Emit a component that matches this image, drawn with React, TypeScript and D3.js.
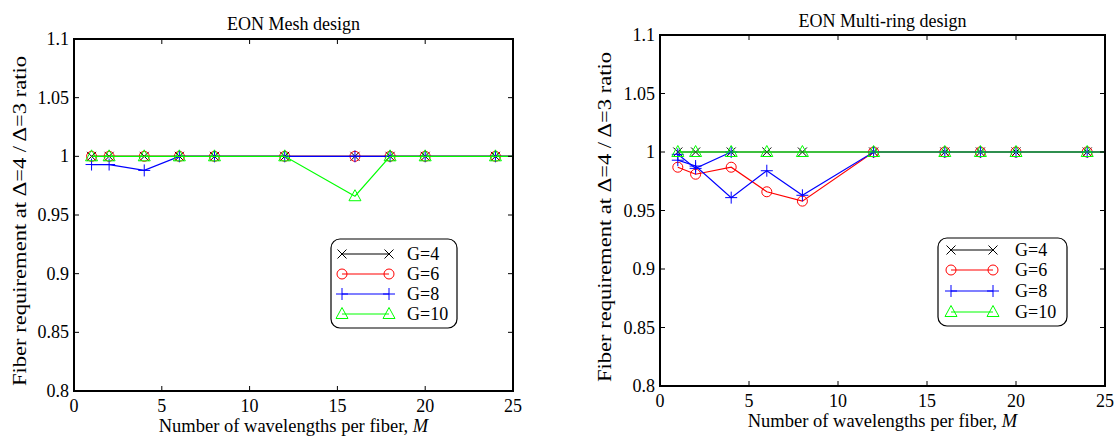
import React from 'react';
import * as d3 from 'd3';

// ---- data ----
const M = [1, 2, 4, 6, 8, 12, 16, 18, 20, 24, 28];

const meshG4 = [1, 1, 1, 1, 1, 1, 1, 1, 1, 1, 1];
const meshG6 = [1, 1, 1, 1, 1, 1, 1, 1, 1, 1, 1];
const meshG8 = [0.993, 0.993, 0.988, 1, 1, 1, 1, 1, 1, 1, 1];
const meshG10 = [1, 1, 1, 1, 1, 1, 0.966, 1, 1, 1, 1];

const ringG4 = [1, 1, 1, 1, 1, 1, 1, 1, 1, 1, 1];
const ringG6 = [0.987, 0.981, 0.987, 0.966, 0.958, 1, 1, 1, 1, 1, 1];
const ringG8 = [0.993, 0.988, 0.961, 0.984, 0.963, 1, 1, 1, 1, 1, 1];
const ringG8bM = [1, 2, 4];
const ringG8b = [0.998, 0.986, 1];
const ringG10 = [1, 1, 1, 1, 1, 1, 1, 1, 1, 1, 1];

const xTicks = [0, 5, 10, 15, 20, 25];
const yTicks = [0.8, 0.85, 0.9, 0.95, 1, 1.05, 1.1];
const yTickLabels = ['0.8', '0.85', '0.9', '0.95', '1', '1.05', '1.1'];
const legendLabels = ['G=4', 'G=6', 'G=8', 'G=10'];

const COLORS = ['#000000', '#ff0000', '#0000ff', '#00ff00'];
const MARKERS = ['x', 'o', '+', '^'];
const FONT = "'Liberation Serif', 'Times New Roman', serif";

function Marker({ kind, x, y, color }: { kind: string; x: number; y: number; color: string }) {
  const t = `translate(${x},${y})`;
  if (kind === 'o') return <circle cx={x} cy={y} r={5} fill="none" stroke={color} strokeWidth={1} />;
  let d = '';
  if (kind === 'x') d = 'M-4.5,-4.5L4.5,4.5M-4.5,4.5L4.5,-4.5';
  if (kind === '+') d = 'M-6,0H6M0,-6V6';
  if (kind === '^') d = 'M0,-6.5L6,4.5H-6Z';
  return <path transform={t} d={d} fill="none" stroke={color} strokeWidth={1} />;
}

type Series = { xs: number[]; ys: number[]; idx: number };

function T(props: any) {
  return <text fontFamily={FONT} fill="#000" {...props} style={{ fontFamily: FONT }} />;
}

function Panel(props: {
  id: string;
  title: string;
  x0: number; x1: number; y0: number; y1: number;
  titleY: number;
  yLabelX: number;
  yLabelY: number;
  series: Series[];
  legend: { x: number; y: number; w: number; h: number; lx0: number; lx1: number; tx: number; rows: number[] };
}) {
  const { id, title, x0, x1, y0, y1, series, legend } = props;
  const x = d3.scaleLinear().domain([0, 25]).range([x0, x1]);
  const y = d3.scaleLinear().domain([0.8, 1.1]).range([y1, y0]);
  const line = d3.line<[number, number]>().x(d => x(d[0])).y(d => y(d[1]));
  const cx = (x0 + x1) / 2;
  const tick = 5;
  return (
    <g>
      <defs>
        <clipPath id={id}>
          <rect x={x0} y={y0} width={x1 - x0} height={y1 - y0} />
        </clipPath>
      </defs>
      <g clipPath={`url(#${id})`}>
        {series.map((s, i) => {
          const pts = s.xs.map((v, k) => [v, s.ys[k]] as [number, number]);
          return (
            <g key={i}>
              <path d={line(pts) || ''} fill="none" stroke={COLORS[s.idx]} strokeWidth={1.2} />
              {pts.map((p, k) => (
                <Marker key={k} kind={MARKERS[s.idx]} x={x(p[0])} y={y(p[1])} color={COLORS[s.idx]} />
              ))}
            </g>
          );
        })}
      </g>
      {xTicks.map(t => (
        <g key={'x' + t}>
          <line x1={x(t)} x2={x(t)} y1={y1} y2={y1 - tick} stroke="#000" strokeWidth={1} />
          <line x1={x(t)} x2={x(t)} y1={y0} y2={y0 + tick} stroke="#000" strokeWidth={1} />
          <T x={x(t)} y={y1 + 21} fontSize={18} textAnchor="middle">{t}</T>
        </g>
      ))}
      {yTicks.map((t, i) => (
        <g key={'y' + t}>
          <line x1={x0} x2={x0 + tick} y1={y(t)} y2={y(t)} stroke="#000" strokeWidth={1} />
          <line x1={x1} x2={x1 - tick} y1={y(t)} y2={y(t)} stroke="#000" strokeWidth={1} />
          <T x={x0 - 5} y={y(t) + 6} fontSize={18} textAnchor="end">{yTickLabels[i]}</T>
        </g>
      ))}
      <rect x={x0} y={y0} width={x1 - x0} height={y1 - y0} fill="none" stroke="#000" strokeWidth={2} />
      <T x={cx} y={props.titleY} fontSize={18} textAnchor="middle">{title}</T>
      <T x={cx} y={y1 + 41} fontSize={18.5} textAnchor="middle">
        Number of wavelengths per fiber, <tspan fontStyle="italic">M</tspan>
      </T>
      <T
        transform={`translate(${props.yLabelX},${props.yLabelY}) rotate(-90)`}
        fontSize={19}
        textAnchor="middle"
        textLength={330}
        lengthAdjust="spacingAndGlyphs"
      >
        Fiber requirement at  Δ=4 / Δ=3 ratio
      </T>
      <g>
        <rect x={legend.x} y={legend.y} width={legend.w} height={legend.h} rx={9} ry={9} fill="#fff" stroke="#000" strokeWidth={1.2} />
        {legendLabels.map((lab, i) => (
          <g key={lab}>
            <line x1={legend.lx0} x2={legend.lx1} y1={legend.rows[i]} y2={legend.rows[i]} stroke={COLORS[i]} strokeWidth={1.2} />
            <Marker kind={MARKERS[i]} x={legend.lx0} y={legend.rows[i]} color={COLORS[i]} />
            <Marker kind={MARKERS[i]} x={legend.lx1} y={legend.rows[i]} color={COLORS[i]} />
            <T x={legend.tx} y={legend.rows[i] + 6} fontSize={18}>{lab}</T>
          </g>
        ))}
      </g>
    </g>
  );
}

export default function App() {
  const mesh: Series[] = [
    { xs: M, ys: meshG4, idx: 0 },
    { xs: M, ys: meshG6, idx: 1 },
    { xs: M, ys: meshG8, idx: 2 },
    { xs: M, ys: meshG10, idx: 3 },
  ];
  const ring: Series[] = [
    { xs: M, ys: ringG4, idx: 0 },
    { xs: M, ys: ringG6, idx: 1 },
    { xs: M, ys: ringG8, idx: 2 },
    { xs: ringG8bM, ys: ringG8b, idx: 2 },
    { xs: M, ys: ringG10, idx: 3 },
  ];
  return (
    <svg width={1114} height={439} style={{ position: 'absolute', left: 0, top: 0, background: '#fff' }}>
      <rect x={0} y={0} width={1114} height={439} fill="#fff" />
      <Panel
        id="clipMesh"
        title="EON Mesh design"
        x0={74} x1={513} y0={39} y1={391}
        titleY={30}
        yLabelX={26}
        yLabelY={221}
        series={mesh}
        legend={{ x: 331, y: 239, w: 126, h: 89, lx0: 342, lx1: 389, tx: 407, rows: [254, 274, 294, 314] }}
      />
      <Panel
        id="clipRing"
        title="EON Multi-ring design"
        x0={660} x1={1105} y0={35} y1={386}
        titleY={27}
        yLabelX={611}
        yLabelY={217}
        series={ring}
        legend={{ x: 938, y: 238, w: 129, h: 88, lx0: 951, lx1: 993, tx: 1015, rows: [250, 270, 291, 312] }}
      />
    </svg>
  );
}
